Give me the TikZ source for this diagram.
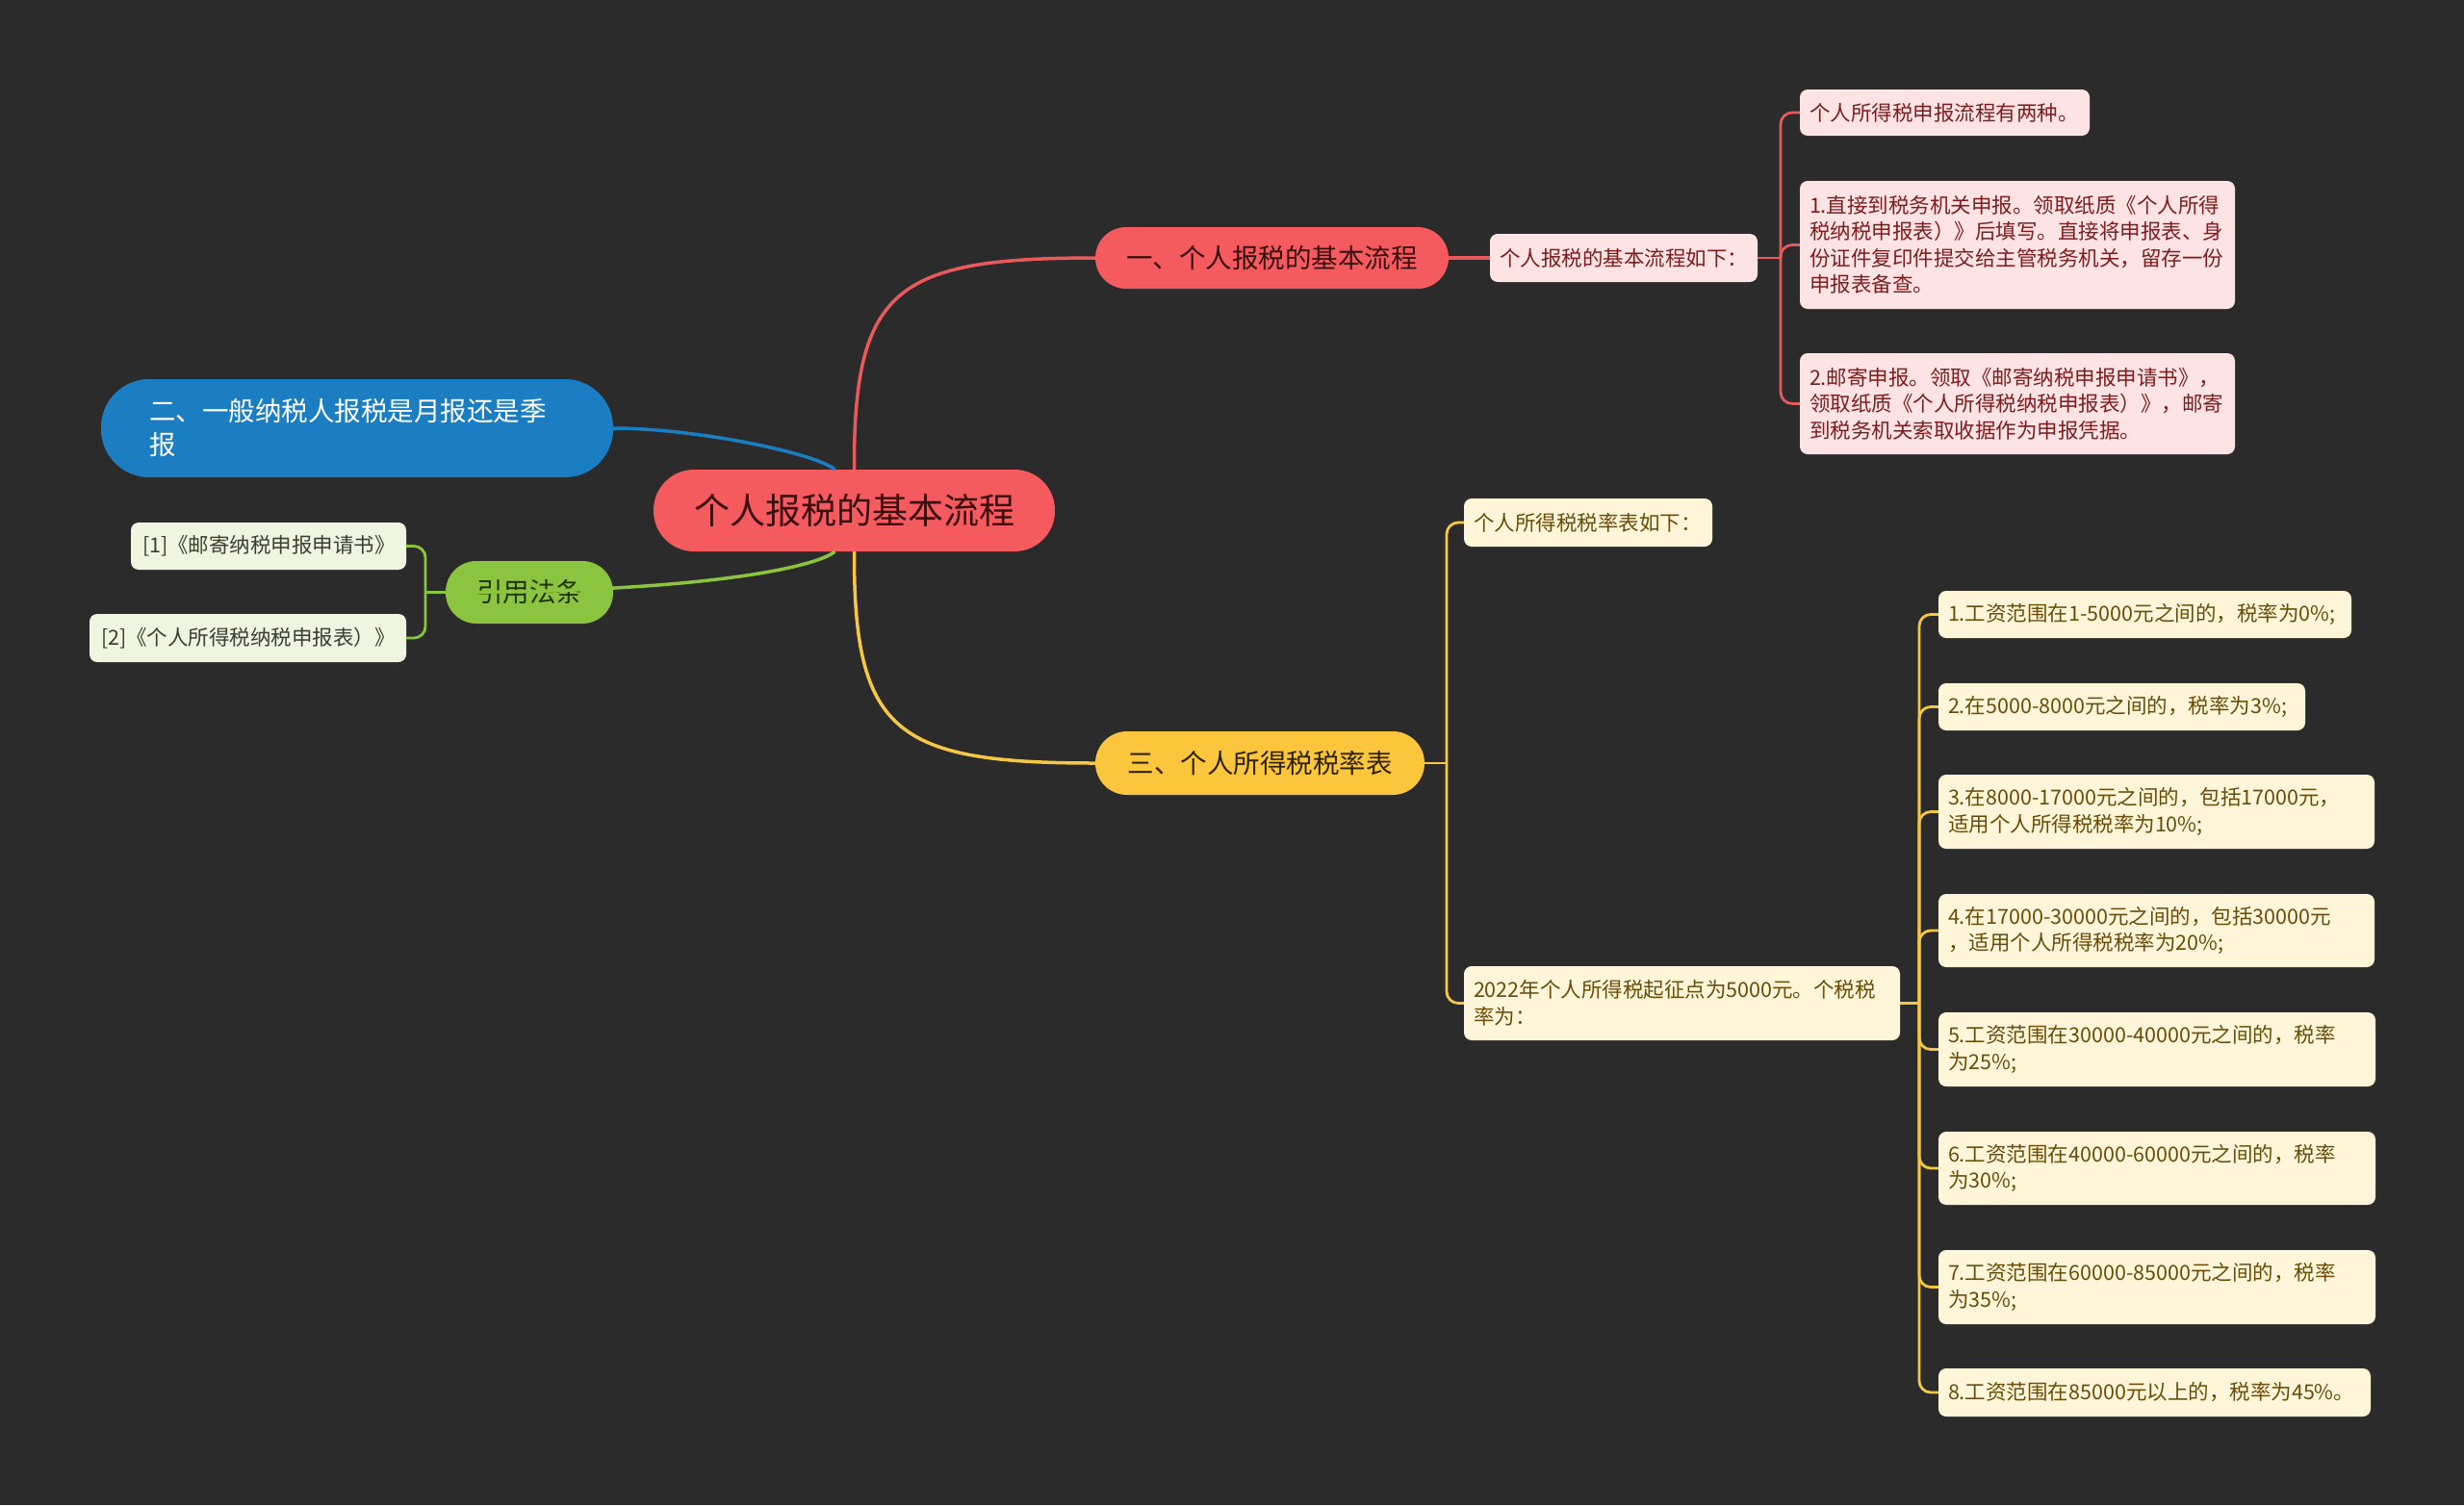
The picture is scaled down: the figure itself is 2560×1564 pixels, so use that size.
\documentclass[tikz,border=0pt]{standalone}
\usepackage{fontspec}
\setmainfont{Noto Sans CJK SC}
\definecolor{bg}{HTML}{2B2B2B}
\definecolor{redfill}{HTML}{F45A5E}
\definecolor{redline}{HTML}{E8595C}
\definecolor{redtext}{HTML}{3A0F10}
\definecolor{pinkfill}{HTML}{FDE3E3}
\definecolor{pinktext}{HTML}{7D1D1D}
\definecolor{bluefill}{HTML}{1B7EC2}
\definecolor{yelfill}{HTML}{FCC63C}
\definecolor{yelline}{HTML}{F5C744}
\definecolor{yeltext}{HTML}{2E2300}
\definecolor{creamfill}{HTML}{FFF5D8}
\definecolor{creamtext}{HTML}{6A4C08}
\definecolor{grnfill}{HTML}{8BC53F}
\definecolor{grntext}{HTML}{1F3300}
\definecolor{lgrnfill}{HTML}{EFF5E0}
\definecolor{lgrntext}{HTML}{3A3F30}
\newcommand{\fsroot}{\fontsize{37pt}{44pt}\selectfont}
\newcommand{\fsmain}{\fontsize{27.5pt}{35pt}\selectfont}
\newcommand{\fsleaf}{\fontsize{21.5pt}{27.5pt}\selectfont}
\begin{document}
\begin{tikzpicture}[x=1pt,y=-1pt,
  pill/.style={rectangle, inner sep=0pt, align=center, font=\fsmain},
  leafbox/.style={rectangle, rounded corners=8pt, inner xsep=10pt, inner ysep=0pt, align=left, font=\fsleaf},
  pinkbox/.style={leafbox, fill=pinkfill, text=pinktext},
  creambox/.style={leafbox, fill=creamfill, text=creamtext},
  lgrnbox/.style={leafbox, fill=lgrnfill, text=lgrntext, inner xsep=12pt},
  mainconn/.style={line width=3.5pt},
  leafconn/.style={line width=2.8pt, rounded corners=12pt}
]
\fill[bg] (0,0) rectangle (2560,1564);
\useasboundingbox (0,0) rectangle (2560,1564);

% central and main nodes
\node[pill, fill=redfill, text=redtext, font=\fsroot, rounded corners=42pt, minimum width=417pt, minimum height=85pt] (root) at (887.5,530.5) {个人报税的基本流程};
\node[pill, fill=redfill, text=redtext, rounded corners=32pt, minimum width=367pt, minimum height=64pt] (b1) at (1321.5,268) {一、个人报税的基本流程};
\node[pill, fill=bluefill, text=white, rounded corners=50pt, minimum height=102pt, inner xsep=50pt, text width=432pt, align=left] (b2) at (371,445) {二、一般纳税人报税是月报还是季\\报};
\node[pill, fill=yelfill, text=yeltext, rounded corners=33pt, minimum width=342pt, minimum height=66pt] (b3) at (1309,793) {三、个人所得税税率表};
\node[pill, fill=grnfill, text=grntext, rounded corners=32pt, minimum width=174pt, minimum height=65pt] (cite) at (550,615.5) {引用法条};

% branch 1 children
\node[pinkbox, text width=258pt, minimum height=50pt] (s1) at (1687,268) {个人报税的基本流程如下：};
\node[pinkbox, text width=281pt, minimum height=48pt] (L1) at (2020.5,117) {个人所得税申报流程有两种。};
\node[pinkbox, text width=432pt, minimum height=133pt] (L2) at (2096,254.5) {1.直接到税务机关申报。领取纸质《个人所得\\税纳税申报表）》后填写。直接将申报表、身\\份证件复印件提交给主管税务机关，留存一份\\申报表备查。};
\node[pinkbox, text width=432pt, minimum height=105pt] (L3) at (2096,419.5) {2.邮寄申报。领取《邮寄纳税申报申请书》，\\领取纸质《个人所得税纳税申报表）》，邮寄\\到税务机关索取收据作为申报凭据。};

% branch 3 children
\node[creambox, text width=238pt, minimum height=50pt] (Y1) at (1650,543) {个人所得税税率表如下：};
\node[creambox, text width=433pt, minimum height=77pt] (Y2) at (1747.5,1042.5) {2022年个人所得税起征点为5000元。个税税\\率为：};
\node[creambox, text width=409pt, minimum height=49pt] (R1) at (2228.5,638.5) {1.工资范围在1-5000元之间的，税率为0\%;};
\node[creambox, text width=361pt, minimum height=49pt] (R2) at (2204.5,734.5) {2.在5000-8000元之间的，税率为3\%;};
\node[creambox, text width=433pt, minimum height=77pt] (R3) at (2240.5,843.5) {3.在8000-17000元之间的，包括17000元，\\适用个人所得税税率为10\%;};
\node[creambox, text width=433pt, minimum height=76pt] (R4) at (2240.5,967) {4.在17000-30000元之间的，包括30000元\\，适用个人所得税税率为20\%;};
\node[creambox, text width=434pt, minimum height=77pt] (R5) at (2241,1090.5) {5.工资范围在30000-40000元之间的，税率\\为25\%;};
\node[creambox, text width=434pt, minimum height=76pt] (R6) at (2241,1214) {6.工资范围在40000-60000元之间的，税率\\为30\%;};
\node[creambox, text width=434pt, minimum height=77pt] (R7) at (2241,1337.5) {7.工资范围在60000-85000元之间的，税率\\为35\%;};
\node[creambox, text width=429pt, minimum height=50pt] (R8) at (2238.5,1447) {8.工资范围在85000元以上的，税率为45\%。};

% citation children
\node[lgrnbox, text width=262pt, minimum height=49pt] (G1) at (279,567.5) {[1]《邮寄纳税申报申请书》};
\node[lgrnbox, text width=305pt, minimum height=50pt] (G2) at (257.5,663) {[2]《个人所得税纳税申报表）》};

% main connectors
\draw[mainconn, redline] (root.north) .. controls (887,300) and (930,268) .. (b1.west);
\draw[mainconn, yelline] (root.south) .. controls (887,761) and (930,793) .. (b3.west);
\draw[mainconn, bluefill] ([xshift=-20pt]root.north) .. controls (845,470) and (720,445) .. (b2.east);
\draw[mainconn, grnfill] ([xshift=-20pt]root.south) .. controls (845,591) and (720,615.5) .. (cite.west);
\draw[mainconn, redline] (b1.east) -- (s1.west);

% trunk coordinates
\coordinate (t1) at (1850,268);
\coordinate (t3) at (1503,793);
\coordinate (t2) at (1994,1042.5);
\coordinate (tg) at (442,615.5);

\draw[leafconn, redline] (s1.east) -- (t1);
\foreach \n in {L1,L2,L3} \draw[leafconn, redline] (t1) |- (\n.west);

\draw[leafconn, yelline] (b3.east) -- (t3);
\foreach \n in {Y1,Y2} \draw[leafconn, yelline] (t3) |- (\n.west);

\draw[leafconn, yelline] (Y2.east) -- (t2);
\foreach \n in {R1,R2,R3,R4,R5,R6,R7,R8} \draw[leafconn, yelline] (t2) |- (\n.west);

\draw[leafconn, grnfill] (cite.west) -- (tg);
\foreach \n in {G1,G2} \draw[leafconn, grnfill] (tg) |- (\n.east);
\end{tikzpicture}
\end{document}
